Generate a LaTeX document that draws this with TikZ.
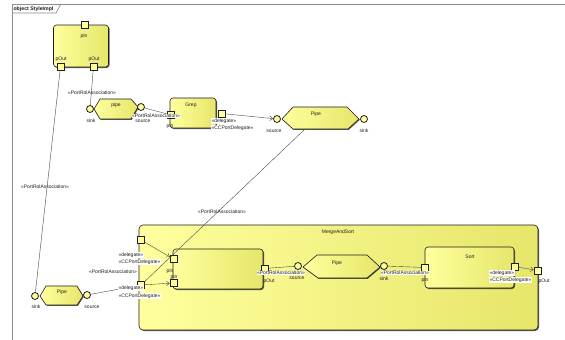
\documentclass[tikz,border=0pt]{standalone}
\usepackage{fontspec}
\setmainfont{Liberation Sans}
\usepackage{tikz}
\usetikzlibrary{arrows.meta,positioning,calc,shadows}
\definecolor{Ink}{HTML}{1E1E1E}
\definecolor{Wire}{HTML}{4A4A4A}
\definecolor{Frame}{HTML}{8C8C8C}
\definecolor{PartLight}{HTML}{FFFF9E}
\definecolor{PartDark}{HTML}{E6E66A}
\definecolor{PortFill}{HTML}{FFFF9E}
\tikzset{
  part/.style={draw=Ink,rounded corners=3pt,line width=0.6pt,left color=PartLight,right color=PartDark,drop shadow={shadow xshift=1pt,shadow yshift=-1pt,fill=Ink,opacity=0.75}},
  pipe/.style={draw=Ink,line width=0.6pt,left color=PartLight,right color=PartDark,drop shadow={shadow xshift=0.8pt,shadow yshift=-0.8pt,fill=Ink,opacity=0.75}},
  port/.style={draw=Ink,fill=PortFill,line width=0.5pt,minimum size=7pt,inner sep=0pt},
  pin/.style={circle,draw=Ink,fill=PortFill,line width=0.8pt,minimum size=7pt,inner sep=0pt},
  lbl/.style={font=\fontsize{5}{5.5}\selectfont,inner sep=0.3pt,text=Ink},
  tag/.style={lbl,fill=white},
  wire/.style={draw=Wire,line width=0.4pt},
  dlg/.style={wire,-{Straight Barb[length=3pt,width=4.5pt]}},
  frameline/.style={draw=Frame,line width=0.6pt}
}
\begin{document}
\begin{tikzpicture}[x=1pt,y=-1pt]
  \useasboundingbox[fill=white] (0,0) rectangle (565,340);
  % frame
  \draw[frameline] (12,340) -- (12,4) -- (565,4);
  \draw[frameline] (12,13) -- (56,13) -- (61,4);
  \node[lbl,font=\fontsize{5.2}{5.5}\selectfont\bfseries] (title) at (33.5,8.8) {object StyleImpl};

  % parts
  \node[part,minimum width=55pt,minimum height=42pt] (pinbox) at (81,46) {};
  \node[part,minimum width=46pt,minimum height=30pt] (grep) at (193,113) {};
  \node[part,rounded corners=4pt,minimum width=399pt,minimum height=105pt] (mrg) at (338.5,277.5) {};
  \node[part,minimum width=90pt,minimum height=40pt] (mrgA) at (218,269) {};
  \node[part,minimum width=89pt,minimum height=41pt] (sort) at (469.5,267.5) {};

  % pipes
  \path[pipe] (94,109) -- (100,99) -- (131,99) -- (138,107) -- (131,119) -- (100,119) -- cycle;
  \path[pipe] (282,119) -- (293,107) -- (347,107) -- (359,119) -- (348,129) -- (293,129) -- cycle;
  \path[pipe] (40,296) -- (46,286) -- (77,286) -- (83,296) -- (77,305) -- (46,305) -- cycle;
  \path[pipe] (303,267) -- (317,255) -- (367,255) -- (380,267) -- (367,278) -- (318,278) -- cycle;
  \coordinate (bigBot) at (304,130);

  % ports
  \node[port] (pinIn) at (84.5,24.5) {};
  \node[port] (pinOutA) at (60.5,66.5) {};
  \node[port] (pinOutB) at (93.5,66.5) {};
  \node[pin] (pipeSink) at (90,109) {};
  \node[pin] (pipeSrc) at (141,107) {};
  \node[port] (grepIn) at (171,115) {};
  \node[port] (grepOut) at (221.5,113.5) {};
  \node[pin] (bigSrc) at (277,119) {};
  \node[pin] (bigSink) at (364,119) {};
  \node[pin] (lowSink) at (35,296) {};
  \node[pin] (lowSrc) at (87,295) {};
  \node[port] (mrgInA) at (141,240) {};
  \node[port] (mrgInB) at (141,285) {};
  \node[port] (mrgOut) at (537.5,270.5) {};
  \node[port] (mrgAInA) at (173.5,259) {};
  \node[port] (mrgAInB) at (173.5,283) {};
  \node[port] (mrgAOut) at (264.5,268.5) {};
  \node[pin] (midSrc) at (298,266) {};
  \node[pin] (midSink) at (384,266) {};
  \node[port] (sortIn) at (425,267.5) {};
  \node[port] (sortOut) at (514.5,266.5) {};

  % connectors
  \draw[wire] (pinOutB) -- (pipeSink);
  \draw[wire] (pinOutA) -- (lowSink);
  \draw[wire] (pipeSrc) -- (grepIn);
  \draw[dlg] (grepOut) -- (bigSrc);
  \draw[wire] (bigBot) -- (mrgInB);
  \draw[wire] (lowSrc) -- (mrgInB);
  \draw[dlg] (mrgInA) -- (mrgAInA);
  \draw[dlg] (mrgInB) -- (mrgAInB);
  \draw[wire] (mrgAOut) -- (midSrc);
  \draw[wire] (midSink) -- (sortIn);
  \draw[dlg] (sortOut) -- (mrgOut);

  % names
  \node[lbl] (pinName) at (84,36) {pIn};
  \node[lbl] (grepName) at (191,105) {Grep};
  \node[lbl] (mrgName) at (338,232) {MergeAndSort};
  \node[lbl] (sortName) at (470,257) {Sort};
  \node[lbl] (pipeName) at (116,105) {pipe};
  \node[lbl] (bigName) at (316,114) {Pipe};
  \node[lbl] (lowName) at (62,292) {Pipe};
  \node[lbl] (midName) at (337,263) {Pipe};

  % port labels
  \node[lbl] at (61,59) {pOut};
  \node[lbl] at (94,59) {pOut};
  \node[lbl] at (91,121) {sink};
  \node[lbl] at (143,121) {source};
  \node[lbl] at (170,126) {pIn};
  \node[lbl] at (274,131) {source};
  \node[lbl] at (364,131) {sink};
  \node[lbl] at (36,307) {sink};
  \node[lbl] at (92,307) {source};
  \node[lbl] at (170,271) {pIn};
  \node[lbl] at (174,277) {pIn};
  \node[lbl] at (269,281) {pOut};
  \node[lbl] at (297,278) {source};
  \node[lbl] at (384,279) {sink};
  \node[lbl] at (425,280) {pIn};
  \node[lbl] at (544,281) {pOut};

  % stereotypes
  \node[lbl] at (92,93) {«PortRolAssociation»};
  \node[lbl] at (45,187) {«PortRolAssociation»};
  \node[tag] at (156,116) {«PortRolAssociation»};
  \node[lbl] at (222,212) {«PortRolAssociation»};
  \node[tag] at (113,272) {«PortRolAssociation»};
  \node[tag] at (281,273) {«PortRolAssociation»};
  \node[tag] at (405,273) {«PortRolAssociation»};
  \node[tag,anchor=west] at (211,121) {«delegate»};
  \node[tag,anchor=west] at (211,128) {«CCPortDelegate»};
  \node[tag,anchor=west] at (118,255) {«delegate»};
  \node[tag,anchor=west] at (118,262) {«CCPortDelegate»};
  \node[tag,anchor=west] at (118,288) {«delegate»};
  \node[tag,anchor=west] at (118,296) {«CCPortDelegate»};
  \node[tag,anchor=west] at (489,273) {«delegate»};
  \node[tag,anchor=west] at (489,280) {«CCPortDelegate»};
\end{tikzpicture}
\end{document}
